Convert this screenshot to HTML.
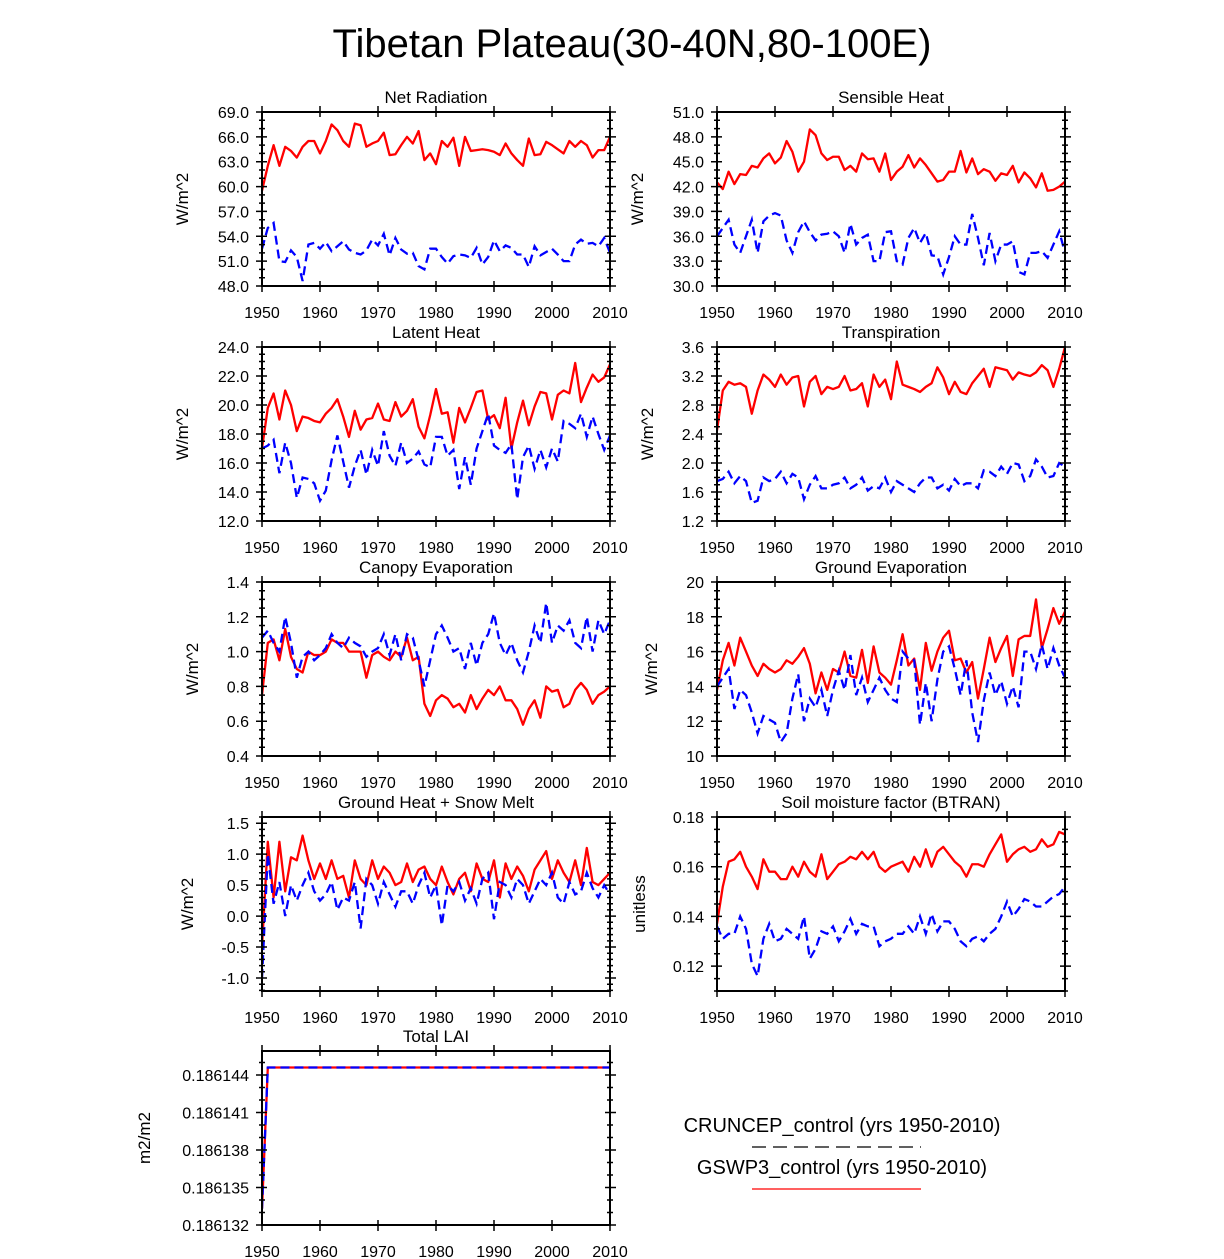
<!DOCTYPE html>
<html><head><meta charset="utf-8"><style>
body{margin:0;background:#fff;}
svg{display:block;font-family:"Liberation Sans",Arial,sans-serif;}
</style></head><body>
<svg id="chart" width="1224" height="1259" viewBox="0 0 1224 1259" xmlns="http://www.w3.org/2000/svg">
<text x="632" y="57" font-size="40" text-anchor="middle">Tibetan Plateau(30-40N,80-100E)</text>
<g>
<text x="842" y="1132" font-size="20" text-anchor="middle">CRUNCEP_control (yrs 1950-2010)</text>
<line x1="752" y1="1147" x2="921" y2="1147" stroke="#000" stroke-width="1.2" stroke-dasharray="14,7"/>
<text x="842" y="1174" font-size="20" text-anchor="middle">GSWP3_control (yrs 1950-2010)</text>
<line x1="752" y1="1189" x2="921" y2="1189" stroke="#f00" stroke-width="1.2"/>
</g>
</svg>
<script>
const years = []; for (let y = 1950; y <= 2010; y++) years.push(y);
const xTickLabels = [1950,1960,1970,1980,1990,2000,2010];

const netRadRed = [59.5,62.5,65,62.5,64.8,64.3,63.5,64.8,65.5,65.5, 64,65.5,67.5,66.8,65.5,64.8,67.6,67.4,64.8,65.2, 65.5,66.5,63.8,63.9,65,66,65.2,66.7,63.2,64, 62.7,65.5,64.8,65.9,62.5,66,64.3,64.4,64.5,64.4, 64.2,63.8,65.2,64,63.2,62.5,65.8,63.8,63.9,65.4, 65,64.5,64,65.5,64.8,65.5,65,63.5,64.4,64.4, 66];
const netRadBlue = [52.5,55,55.6,51,50.9,52.3,51.5,48.6,53,53.2, 52.5,53.3,52.2,52.8,53.4,52.4,52,51.8,52.3,53.6, 52.9,54.3,51.7,53.8,52.4,51.9,52,50.4,50,52.5, 52.5,51.5,50.7,51.6,51.8,51.7,51.4,52.6,50.6,51.5, 53.5,52.2,52.9,52.6,51.8,51.8,50.3,52.8,51.7,52.1, 52.5,51.8,51,51,53,53.6,53.1,53.2,52.8,53.8, 52];
const sensRed = [42.5,41.7,43.8,42.3,43.5,43.4,44.5,44.3,45.4,46, 44.8,45.5,47.5,46.2,43.8,45,48.9,48.2,46,45.2, 45.6,45.6,44,44.5,43.8,46,45.3,45.4,43.8,46, 42.8,43.8,44.4,45.8,44.3,45.4,44.6,43.6,42.6,42.8, 43.8,43.8,46.3,43.7,45.4,43.5,44.1,43.8,42.7,43.6, 43.4,44.5,42.5,43.7,43,41.9,43.6,41.5,41.6,42, 42.6];
const sensBlue = [36,37,38,35,34,36,38,34,37.8,38.5, 38.8,38.5,35.5,34,36.5,37.8,36.5,35.5,36.2,36.3, 36.6,36,34,37.5,35,35.8,36.2,33,33,36.5, 36.6,33,32.6,35.8,37,35.2,36.4,33.7,33.6,31.4, 33.5,36,35,35,38.7,35.8,32.5,36.4,33,35, 35,35.4,31.7,31.4,34,34,34.2,33.4,35,36.6, 34];
const latRed = [17,19.8,20.8,19,21,20,18.2,19.2,19.1,18.9, 18.8,19.4,19.8,20.4,19.2,17.8,19.6,18.3,19,19.1, 20.1,19,18.9,20.2,19.2,19.6,20.4,18.5,17.7,19.3, 21.1,19.4,19.5,17.4,19.8,18.8,19.8,20.9,21,19, 19.3,18.4,20.5,17,18.8,20.3,18.6,19.9,20.9,20.8, 19,20.7,21,20.8,22.9,20.2,21.2,22.1,21.6,21.9, 22.8];
const latBlue = [17,17.2,17.6,15.3,17.4,16,13.6,15,14.9,14.6, 13.4,14.1,16.2,17.9,16.1,14.3,15.8,16.9,15.2,16.9, 15.8,18.2,16.5,15.8,17.4,16,16.3,16.8,15.9,15.7, 17.8,17.8,16.5,16.9,14.2,16.4,14.5,17,18.2,19.4, 17.2,16.9,16.7,17.3,13.5,16.4,17.2,15.6,16.9,15.7, 17,16.1,18.9,18.7,18.4,19.4,17.8,19.2,18,16.9, 17.9];
const trRed = [2.45,3.0,3.12,3.08,3.1,3.05,2.68,3.0,3.22,3.15, 3.05,3.22,3.08,3.18,3.2,2.78,3.12,3.2,2.95,3.05, 3.02,3.05,3.2,3.0,3.02,3.1,2.78,3.22,3.05,3.15, 2.88,3.4,3.08,3.05,3.02,2.98,3.05,3.1,3.32,3.18, 2.95,3.12,2.98,2.95,3.1,3.2,3.3,3.05,3.32,3.3, 3.28,3.15,3.25,3.22,3.2,3.25,3.35,3.28,3.05,3.3, 3.6];
const trBlue = [1.75,1.78,1.88,1.72,1.82,1.75,1.45,1.48,1.8,1.75, 1.78,1.88,1.72,1.85,1.8,1.5,1.7,1.82,1.65,1.65, 1.7,1.72,1.8,1.65,1.7,1.8,1.62,1.68,1.65,1.8, 1.6,1.75,1.7,1.65,1.6,1.72,1.8,1.8,1.65,1.7, 1.62,1.78,1.68,1.72,1.72,1.65,1.9,1.88,1.82,1.95, 1.85,2.0,1.98,1.75,1.82,2.05,1.95,1.8,1.82,2.0, 1.95];
const canRed = [0.75,1.05,1.07,0.95,1.13,0.97,0.9,0.88,1.0,0.98, 0.98,1.0,1.07,1.05,1.05,1.0,1.0,1.0,0.85,0.98, 1.0,0.97,0.95,1.0,0.97,1.08,0.95,0.97,0.7,0.63, 0.72,0.75,0.73,0.68,0.7,0.65,0.75,0.67,0.73,0.78, 0.75,0.8,0.72,0.72,0.67,0.58,0.67,0.72,0.62,0.8, 0.77,0.78,0.68,0.7,0.78,0.82,0.78,0.7,0.75,0.77, 0.8];
const canBlue = [1.08,1.12,1.05,1.0,1.2,1.05,0.85,0.97,1.0,0.95, 0.98,1.02,1.1,1.05,1.02,1.08,1.05,1.03,0.97,1.0, 1.02,1.1,0.98,1.1,0.95,1.1,1.08,0.95,0.8,0.95, 1.1,1.15,1.08,1.0,1.02,0.9,1.05,0.92,1.05,1.1, 1.22,1.05,0.98,1.05,0.95,0.88,1.0,1.15,1.05,1.28, 1.05,1.15,1.12,1.18,1.05,1.02,1.2,1.0,1.18,1.1, 1.18];
const gevRed = [13.8,15.5,16.5,15.2,16.8,16,15.2,14.6,15.3,15, 14.8,15,15.5,15.3,15.7,16.2,15.3,13.6,14.8,13.8, 15,14.8,16,14.6,14.5,16.1,14.2,16.3,14.8,14.5, 14.1,15.5,17,15.2,15.6,13.8,16.5,14.9,16,16.8, 17.2,15.5,15.6,14.8,15.4,13.3,15,16.8,15.4,16.2, 16.9,14.6,16.7,16.9,16.9,19,16.2,17.3,18.5,17.6, 18.3];
const gevBlue = [14,14.5,15,12.7,13.8,13.5,12.5,11.3,12.3,12.1, 11.9,10.8,11.3,13.3,14.7,12,13.3,12.8,13.8,12.3, 13.8,14.9,13.8,15.8,13.5,14.5,13.1,13.8,14.5,13.8, 13.3,13.1,16,15.6,15.5,11.8,14.2,12,14.4,16, 16.3,15,13.5,15.5,12.5,10.8,13.2,14.8,13.5,14.3, 13,14,12.8,16,16,15,16.4,15,16.2,15.2, 14.5];
const ghRed = [-0.5,1.2,0.3,1.2,0.4,0.95,0.9,1.3,0.9,0.6, 0.85,0.6,0.9,0.6,0.65,0.3,0.9,0.6,0.5,0.9, 0.6,0.8,0.7,0.5,0.55,0.85,0.55,0.75,0.8,0.6, 0.5,0.8,0.55,0.35,0.6,0.7,0.4,0.85,0.6,0.55, 0.9,0.3,0.85,0.6,0.8,0.65,0.4,0.75,0.9,1.05, 0.6,0.9,0.7,0.55,0.9,0.5,1.1,0.55,0.5,0.6, 0.7];
const ghBlue = [-1.0,1.0,0.2,0.55,0.0,0.5,0.25,0.5,0.7,0.4, 0.25,0.35,0.55,0.1,0.3,0.25,0.55,-0.2,0.6,0.5, 0.2,0.55,0.35,0.15,0.4,0.4,0.2,0.5,0.7,0.3, 0.5,-0.15,0.5,0.4,0.55,0.25,0.45,0.2,0.6,0.7, -0.05,0.55,0.5,0.3,0.6,0.5,0.2,0.4,0.6,0.5, 0.7,0.3,0.2,0.55,0.35,0.4,0.7,0.45,0.3,0.5, 0.35];
const smRed = [0.137,0.152,0.162,0.163,0.166,0.160,0.156,0.151,0.163,0.158, 0.158,0.155,0.155,0.160,0.156,0.162,0.158,0.156,0.165,0.155, 0.158,0.161,0.162,0.164,0.163,0.166,0.163,0.166,0.160,0.158, 0.160,0.161,0.162,0.158,0.164,0.160,0.167,0.160,0.166,0.168, 0.165,0.162,0.160,0.156,0.161,0.161,0.160,0.165,0.169,0.173, 0.162,0.165,0.167,0.168,0.166,0.167,0.171,0.168,0.169,0.174, 0.173];
const smBlue = [0.136,0.131,0.133,0.133,0.140,0.135,0.121,0.116,0.131,0.137, 0.130,0.131,0.135,0.133,0.131,0.140,0.123,0.127,0.134,0.133, 0.136,0.130,0.134,0.139,0.133,0.137,0.136,0.136,0.128,0.130, 0.131,0.133,0.133,0.136,0.133,0.140,0.133,0.141,0.134,0.138, 0.138,0.135,0.130,0.128,0.131,0.132,0.130,0.133,0.135,0.140, 0.146,0.140,0.143,0.147,0.146,0.144,0.144,0.146,0.148,0.149, 0.152];
const laiStart = 0.1861333;
const laiLevel = 0.1861446;
const laiRed = years.map((y, i) => i === 0 ? laiStart : laiLevel);
const laiBlue = years.map((y, i) => i === 0 ? laiStart : laiLevel);

const panels = [
 {key:'net-radiation', title:'Net Radiation', unit:'W/m^2', col:0, row:0, ymin:48, ymax:69, t0:48, tstep:3, tn:8, minor:1, dec:1, tx:188, red:netRadRed, blue:netRadBlue},
 {key:'sensible-heat', title:'Sensible Heat', unit:'W/m^2', col:1, row:0, ymin:30, ymax:51, t0:30, tstep:3, tn:8, minor:1, dec:1, tx:643, red:sensRed, blue:sensBlue},
 {key:'latent-heat', title:'Latent Heat', unit:'W/m^2', col:0, row:1, ymin:12, ymax:24, t0:12, tstep:2, tn:7, minor:0.5, dec:1, tx:188, red:latRed, blue:latBlue},
 {key:'transpiration', title:'Transpiration', unit:'W/m^2', col:1, row:1, ymin:1.2, ymax:3.6, t0:1.2, tstep:0.4, tn:7, minor:0.1, dec:1, tx:653, red:trRed, blue:trBlue},
 {key:'canopy-evaporation', title:'Canopy Evaporation', unit:'W/m^2', col:0, row:2, ymin:0.4, ymax:1.4, t0:0.4, tstep:0.2, tn:6, minor:0.05, dec:1, tx:198, red:canRed, blue:canBlue},
 {key:'ground-evaporation', title:'Ground Evaporation', unit:'W/m^2', col:1, row:2, ymin:10, ymax:20, t0:10, tstep:2, tn:6, minor:0.5, dec:0, tx:657, red:gevRed, blue:gevBlue},
 {key:'ground-heat-snow-melt', title:'Ground Heat + Snow Melt', unit:'W/m^2', col:0, row:3, ymin:-1.21, ymax:1.6, t0:-1.0, tstep:0.5, tn:6, minor:0.1, dec:1, tx:193, red:ghRed, blue:ghBlue},
 {key:'soil-moisture-btran', title:'Soil moisture factor (BTRAN)', unit:'unitless', col:1, row:3, ymin:0.11, ymax:0.18, t0:0.12, tstep:0.02, tn:4, minor:0.005, dec:2, tx:645, red:smRed, blue:smBlue},
 {key:'total-lai', title:'Total LAI', unit:'m2/m2', col:0, row:4, ymin:0.186132, ymax:0.18614592, t0:0.186132, tstep:0.000003, tn:5, minor:0.000001, dec:6, tx:150, red:laiRed, blue:laiBlue}
];

const NS = 'http://www.w3.org/2000/svg';
const svg = document.getElementById('chart');
const colX = [262, 717], W = 348;
const rowY = [112, 347, 582, 817, 1051], H = 174;

function mk(tag, attrs, parent) {
  const e = document.createElementNS(NS, tag);
  for (const k in attrs) e.setAttribute(k, attrs[k]);
  parent.appendChild(e);
  return e;
}

panels.forEach(p => {
  const x0 = colX[p.col], y0 = rowY[p.row], x1 = x0 + W, y1 = y0 + H;
  const xs = v => x0 + (v - 1950) / 60 * W;
  const ys = v => y1 - (v - p.ymin) / (p.ymax - p.ymin) * H;
  const g = mk('g', {}, svg);
  
  

  const title = mk('text', {x: x0 + W/2, y: y0 - 9, 'font-size': 17, 'text-anchor': 'middle'}, g);
  title.textContent = p.title;
  
  

  const yt = mk('text', {x: p.tx, y: y0 + H/2, 'font-size': 17, 'text-anchor': 'middle', transform: 'rotate(-90 ' + p.tx + ' ' + (y0 + H/2) + ')'}, g);
  yt.textContent = p.unit;
  
  

  const mkPath = arr => arr.map((v, i) => (i ? 'L' : 'M') + xs(years[i]).toFixed(2) + ' ' + ys(v).toFixed(2)).join(' ');
  const clipId = 'clip-' + p.key;
  const cp = mk('clipPath', {id: clipId}, g);
  mk('rect', {x: x0, y: y0, width: W, height: H}, cp);
  const red = mk('path', {d: mkPath(p.red), fill: 'none', stroke: '#ff0000', 'stroke-width': 2.3, 'stroke-linejoin': 'round', 'clip-path': 'url(#' + clipId + ')'}, g);
  
  
  const blue = mk('path', {d: mkPath(p.blue), fill: 'none', stroke: '#0000ff', 'stroke-width': 2.3, 'stroke-dasharray': '9,5', 'clip-path': 'url(#' + clipId + ')'}, g);
  
  

  const fr = mk('rect', {x: x0, y: y0, width: W, height: H, fill: 'none', stroke: '#000', 'stroke-width': 2}, g);
  
  

  let tp = '';
  xTickLabels.forEach(v => {
    const x = xs(v);
    tp += 'M' + x + ' ' + (y1 - 5) + ' L' + x + ' ' + (y1 + 6) + ' M' + x + ' ' + (y0 - 6) + ' L' + x + ' ' + (y0 + 5) + ' ';
    const t = mk('text', {x: x, y: y1 + 32, 'font-size': 16, 'text-anchor': 'middle'}, g);
    t.textContent = v;
    
    
  });
  for (let i = 0; i < p.tn; i++) {
    const v = p.t0 + i * p.tstep;
    const y = ys(v);
    tp += 'M' + (x0 - 6) + ' ' + y + ' L' + (x0 + 5) + ' ' + y + ' M' + (x1 - 5) + ' ' + y + ' L' + (x1 + 6) + ' ' + y + ' ';
    const t = mk('text', {x: x0 - 13, y: y + 6, 'font-size': 16, 'text-anchor': 'end'}, g);
    t.textContent = v.toFixed(p.dec);
    
    
  }
  const mStart = Math.ceil((p.ymin - 1e-12) / p.minor);
  for (let k = mStart; k * p.minor <= p.ymax + 1e-12; k++) {
    const y = ys(k * p.minor);
    if (y < y0 - 0.5 || y > y1 + 0.5) continue;
    tp += 'M' + (x0 - 3) + ' ' + y + ' L' + (x0 + 3) + ' ' + y + ' M' + (x1 - 3) + ' ' + y + ' L' + (x1 + 3) + ' ' + y + ' ';
  }
  const ticks = mk('path', {d: tp, stroke: '#000', 'stroke-width': 1.5, fill: 'none'}, g);
  
  
});
</script>
</body></html>
